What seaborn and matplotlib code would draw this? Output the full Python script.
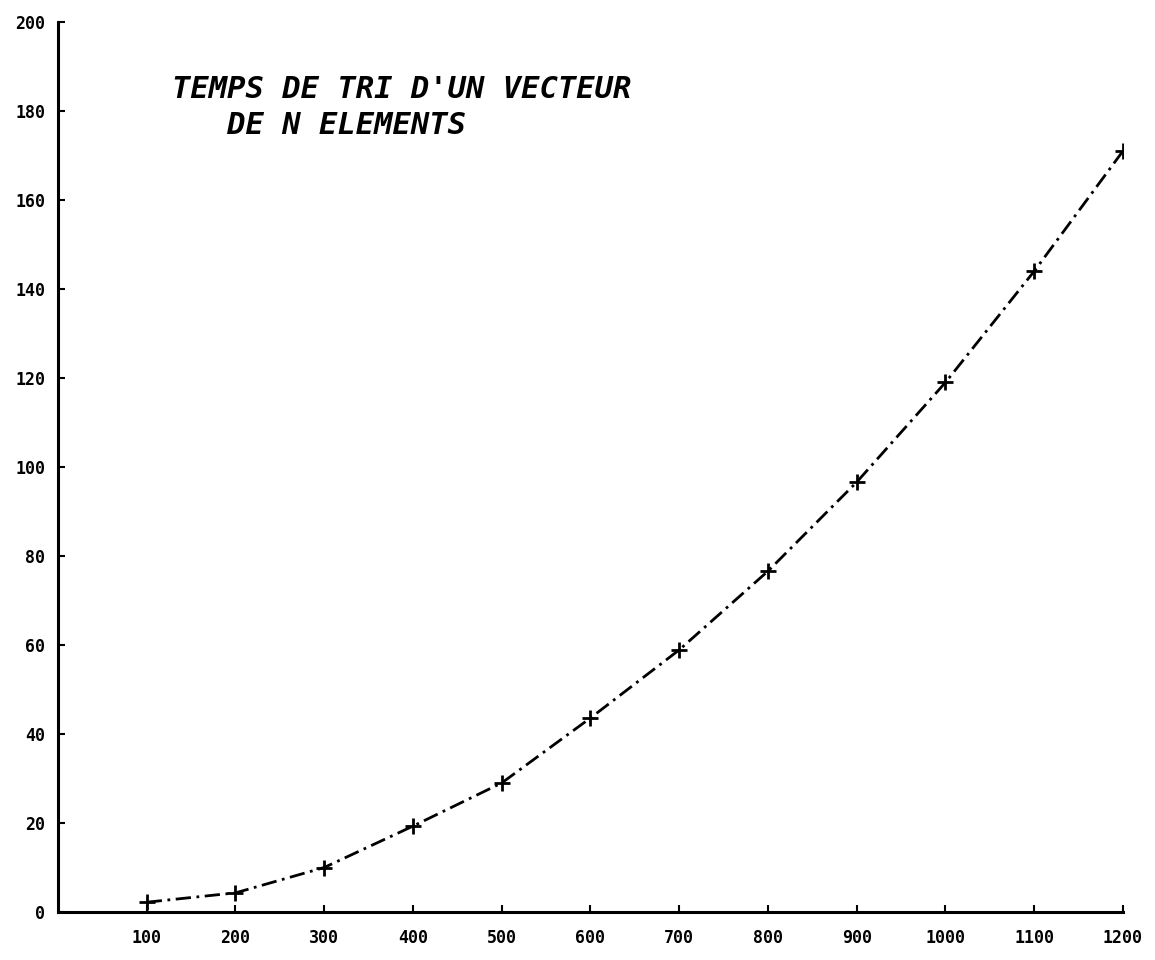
import matplotlib
matplotlib.use("Agg")
import matplotlib.pyplot as plt
import seaborn as sns
import pandas as pd

# Sorting time for a vector of N elements
n_elements = [100, 200, 300, 400, 500, 600, 700, 800, 900, 1000, 1100, 1200]
sort_time = [2.2, 4.3, 10.0, 19.3, 29.0, 43.6, 58.9, 76.6, 96.6, 119.0, 144.0, 171.0]

x_ticks = [100, 200, 300, 400, 500, 600, 700, 800, 900, 1000, 1100, 1200]
x_tick_labels = ["100", "200", "300", "400", "500", "600", "700", "800", "900", "1000", "1100", "1200"]
y_ticks = [0, 20, 40, 60, 80, 100, 120, 140, 160, 180, 200]
y_tick_labels = [str(v) for v in y_ticks]

title_lines = ["TEMPS DE TRI D'UN VECTEUR", "   DE N ELEMENTS"]

df = pd.DataFrame({"N": n_elements, "temps": sort_time})

sns.set_style("ticks")
plt.rcParams["font.family"] = ["DejaVu Sans Mono", "DejaVu Sans"]

fig = plt.figure(figsize=(11.55, 9.6), dpi=100)
ax = fig.add_axes([0.0502, 0.05, 0.922, 0.927])

sns.lineplot(data=df, x="N", y="temps", ax=ax, color="black", linewidth=2.0,
             marker="+", markersize=12, markeredgewidth=2.0, markeredgecolor="black")
ax.lines[0].set_dashes((5.5, 2, 1, 2))

ax.set_xlim(0, 1200)
ax.set_ylim(0, 200)
ax.set_xticks(x_ticks)
ax.set_xticklabels(x_tick_labels)
ax.set_yticks(y_ticks)
ax.set_yticklabels(y_tick_labels)
ax.set_xlabel("")
ax.set_ylabel("")

for lab in ax.get_xticklabels() + ax.get_yticklabels():
    lab.set_fontweight("bold")
    lab.set_fontsize(12)
    lab.set_color("black")

ax.tick_params(axis="both", direction="in", length=5, width=1.5, colors="black")
ax.tick_params(axis="x", pad=12)
ax.tick_params(axis="y", pad=9)

sns.despine(ax=ax)
for side in ("left", "bottom"):
    ax.spines[side].set_linewidth(2.2)
    ax.spines[side].set_color("black")

ax.text(0.107, 0.94, "\n".join(title_lines), transform=ax.transAxes,
        fontsize=22, fontweight="bold", fontstyle="italic", color="black",
        ha="left", va="top", linespacing=1.3)

fig.savefig("out.png", dpi=100, facecolor="white")
